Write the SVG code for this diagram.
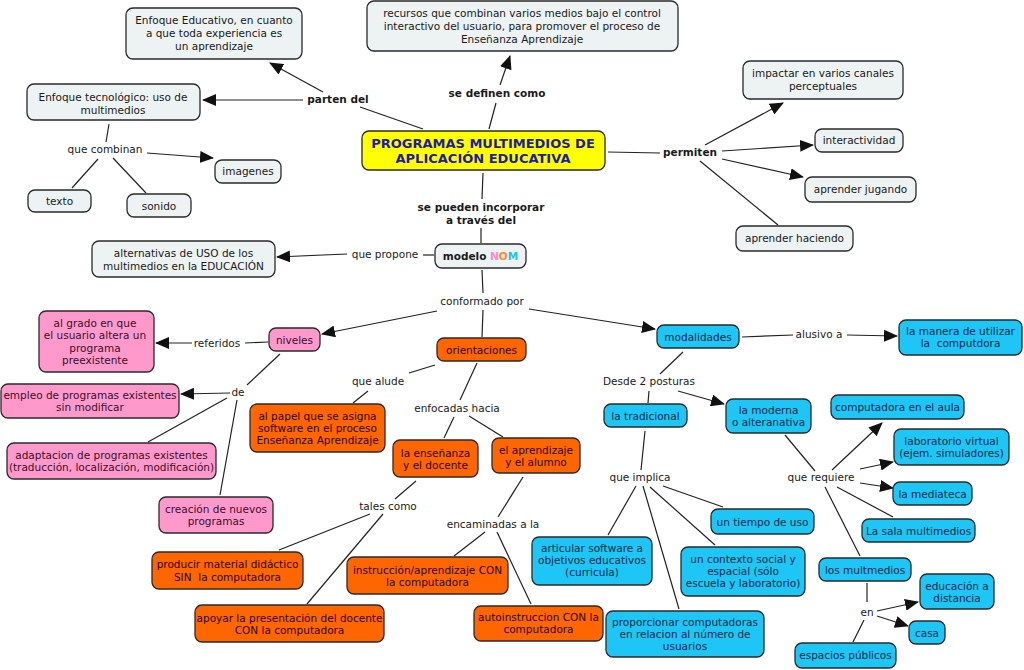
<svg xmlns="http://www.w3.org/2000/svg" width="1024" height="670" viewBox="0 0 1024 670">
<style>
text{font-family:"DejaVu Sans",Verdana,"Liberation Sans",sans-serif;font-size:10.5px;fill:#1a1a1a;text-anchor:middle;white-space:pre}
.b{font-weight:bold}
rect{stroke:#2a2a2a;stroke-width:1.3;rx:7;ry:7}
.g rect{fill:#edf2f3}
.p rect{fill:#ff99cc}
.p text{fill:#3a1028}
.o rect{fill:#ff6600}
.o text{fill:#2a0800}
.c rect{fill:#1dc6f4}
.c text{fill:#08284a}
.m rect{fill:#ffff00}
.m text{fill:#1c1ca8;font-size:13px;font-weight:bold}
#links line{stroke:#222;stroke-width:1.2}
#links .a{marker-end:url(#ah)}
</style>
<defs>
<marker id="ah" markerUnits="userSpaceOnUse" markerWidth="14" markerHeight="12" viewBox="0 0 14 12" refX="13" refY="6" orient="auto">
<path d="M0,0 L14,6 L0,12 z" fill="#111"/>
</marker>
</defs>
<rect x="0" y="0" width="1024" height="670" style="fill:#fff;stroke:none"/>

<g id="links">
<line x1="360" y1="107" x2="423" y2="129"/>
<line class="a" x1="323" y1="92" x2="270" y2="63"/>
<line class="a" x1="303" y1="100" x2="203" y2="100"/>
<line x1="109" y1="124" x2="106" y2="142"/>
<line x1="98" y1="159" x2="72" y2="188"/>
<line x1="113" y1="158" x2="146" y2="193"/>
<line class="a" x1="147" y1="153" x2="213" y2="158"/>
<line x1="489" y1="129" x2="496" y2="103"/>
<line class="a" x1="500" y1="85" x2="510" y2="56"/>
<line x1="608" y1="152" x2="660" y2="153"/>
<line class="a" x1="705" y1="145" x2="783" y2="103"/>
<line class="a" x1="722" y1="151" x2="813" y2="145"/>
<line class="a" x1="722" y1="159" x2="803" y2="177"/>
<line x1="700" y1="161" x2="778" y2="225"/>
<line x1="483" y1="173" x2="482" y2="199"/>
<line x1="481" y1="228" x2="481" y2="243"/>
<line x1="423" y1="255" x2="434" y2="255"/>
<line class="a" x1="347" y1="254" x2="277" y2="257"/>
<line x1="482" y1="270" x2="483" y2="293"/>
<line class="a" x1="437" y1="311" x2="322" y2="334"/>
<line x1="483" y1="310" x2="482" y2="337"/>
<line class="a" x1="529" y1="309" x2="655" y2="329"/>
<line x1="245" y1="343" x2="268" y2="342"/>
<line class="a" x1="192" y1="343" x2="156" y2="343"/>
<line x1="280" y1="354" x2="247" y2="385"/>
<line class="a" x1="230" y1="393" x2="181" y2="394"/>
<line x1="227" y1="398" x2="148" y2="442"/>
<line x1="237" y1="400" x2="220" y2="495"/>
<line x1="435" y1="365" x2="409" y2="373"/>
<line x1="368" y1="391" x2="353" y2="403"/>
<line x1="477" y1="363" x2="460" y2="400"/>
<line x1="454" y1="417" x2="444" y2="438"/>
<line x1="469" y1="416" x2="503" y2="437"/>
<line x1="416" y1="481" x2="395" y2="499"/>
<line x1="370" y1="514" x2="279" y2="550"/>
<line x1="383" y1="514" x2="307" y2="604"/>
<line x1="523" y1="477" x2="498" y2="517"/>
<line x1="485" y1="532" x2="454" y2="556"/>
<line x1="497" y1="532" x2="531" y2="604"/>
<line x1="742" y1="337" x2="793" y2="335"/>
<line class="a" x1="847" y1="335" x2="897" y2="336"/>
<line x1="683" y1="352" x2="660" y2="374"/>
<line x1="649" y1="391" x2="648" y2="403"/>
<line class="a" x1="678" y1="391" x2="724" y2="404"/>
<line x1="645" y1="431" x2="641" y2="470"/>
<line x1="636" y1="486" x2="608" y2="535"/>
<line x1="643" y1="486" x2="679" y2="609"/>
<line x1="650" y1="487" x2="715" y2="545"/>
<line x1="663" y1="486" x2="723" y2="507"/>
<line x1="785" y1="435" x2="815" y2="471"/>
<line class="a" x1="832" y1="470" x2="882" y2="423"/>
<line class="a" x1="860" y1="469" x2="893" y2="462"/>
<line class="a" x1="860" y1="483" x2="893" y2="488"/>
<line x1="837" y1="487" x2="893" y2="517"/>
<line x1="825" y1="487" x2="860" y2="556"/>
<line x1="867" y1="583" x2="867" y2="602"/>
<line class="a" x1="877" y1="611" x2="918" y2="602"/>
<line class="a" x1="877" y1="616" x2="908" y2="626"/>
<line x1="864" y1="620" x2="853" y2="642"/>
</g>

<g id="labels">
<text class="b" x="338" y="103">parten del</text>
<text class="b" x="497" y="97">se definen como</text>
<text class="b" x="690" y="156">permiten</text>
<text x="105" y="153">que combinan</text>
<text class="b" x="481" y="211">se pueden incorporar</text>
<text class="b" x="481" y="224">a través del</text>
<text x="385" y="258">que propone</text>
<text x="482" y="305">conformado por</text>
<text x="217" y="347">referidos</text>
<text x="238" y="396">de</text>
<text x="378" y="385">que alude</text>
<text x="457" y="412">enfocadas hacia</text>
<text x="388" y="510">tales como</text>
<text x="493" y="528">encaminadas a la</text>
<text x="819" y="338">alusivo a</text>
<text x="649" y="385">Desde 2 posturas</text>
<text x="640" y="481">que implica</text>
<text x="821" y="481">que requiere</text>
<text x="867" y="616">en</text>
</g>

<g id="n-educativo" class="g"><rect x="126" y="8" width="176" height="51"/><text x="214" y="24">Enfoque Educativo, en cuanto</text><text x="214" y="37">a que toda experiencia es</text><text x="214" y="50">un aprendizaje</text></g>
<g id="n-recursos" class="g"><rect x="367" y="1" width="311" height="50"/><text x="522" y="17">recursos que combinan varios medios bajo el control</text><text x="522" y="30">interactivo del usuario, para promover el proceso de</text><text x="522" y="43">Enseñanza Aprendizaje</text></g>
<g id="n-tecnologico" class="g"><rect x="27" y="84" width="173" height="36"/><text x="113" y="101">Enfoque tecnológico: uso de</text><text x="113" y="114">multimedios</text></g>
<g id="n-imagenes" class="g"><rect x="215" y="160" width="66" height="23"/><text x="248" y="175">imagenes</text></g>
<g id="n-texto" class="g"><rect x="28" y="190" width="63" height="22"/><text x="59.5" y="205">texto</text></g>
<g id="n-sonido" class="g"><rect x="127" y="194" width="64" height="23"/><text x="159" y="210">sonido</text></g>
<g id="n-main" class="m"><rect x="362" y="131" width="243" height="39"/><text x="483" y="148">PROGRAMAS MULTIMEDIOS DE</text><text x="483" y="163">APLICACIÓN EDUCATIVA</text></g>
<g id="n-impactar" class="g"><rect x="743" y="61" width="160" height="38"/><text x="823" y="77">impactar en varios canales</text><text x="823" y="90">perceptuales</text></g>
<g id="n-interactividad" class="g"><rect x="815" y="129" width="88" height="23"/><text x="859" y="144">interactividad</text></g>
<g id="n-jugando" class="g"><rect x="805" y="177" width="111" height="25"/><text x="860.5" y="193">aprender jugando</text></g>
<g id="n-haciendo" class="g"><rect x="736" y="226" width="117" height="25"/><text x="794.5" y="242">aprender haciendo</text></g>
<g id="n-alternativas" class="g"><rect x="92" y="241" width="183" height="36"/><text x="183.5" y="257">alternativas de USO de los</text><text x="183.5" y="270">multimedios en la EDUCACIÓN</text></g>
<g id="n-nom" class="g"><rect x="435" y="244" width="91" height="24"/><text class="b" x="480.5" y="260">modelo <tspan fill="#ff88cc">N</tspan><tspan fill="#ff8a2a">O</tspan><tspan fill="#22c4f0">M</tspan></text></g>

<g id="n-niveles" class="p"><rect x="269" y="328" width="51" height="23"/><text x="294.5" y="344">niveles</text></g>
<g id="n-grado" class="p"><rect x="39" y="311" width="115" height="61"/><text x="95" y="327">al grado en que</text><text x="95" y="339">el usuario altera un</text><text x="95" y="352">programa</text><text x="95" y="364">preexistente</text></g>
<g id="n-empleo" class="p"><rect x="1" y="384" width="178" height="34"/><text x="90" y="399">empleo de programas existentes</text><text x="90" y="411">sin modificar</text></g>
<g id="n-adaptacion" class="p"><rect x="7" y="443" width="209" height="36"/><text x="111.5" y="459">adaptacion de programas existentes</text><text x="111.5" y="471">(traducción, localización, modificación)</text></g>
<g id="n-creacion" class="p"><rect x="159" y="497" width="114" height="36"/><text x="216" y="513">creación de nuevos</text><text x="216" y="525">programas</text></g>

<g id="n-orientaciones" class="o"><rect x="437" y="338" width="89" height="23"/><text x="481.5" y="354">orientaciones</text></g>
<g id="n-papel" class="o"><rect x="250" y="404" width="135" height="48"/><text x="317.5" y="420">al papel que se asigna</text><text x="317.5" y="432">software en el proceso</text><text x="317.5" y="444">Enseñanza Aprendizaje</text></g>
<g id="n-ensenanza" class="o"><rect x="393" y="440" width="85" height="37"/><text x="435.5" y="457">la enseñanza</text><text x="435.5" y="469">y el docente</text></g>
<g id="n-aprendizaje" class="o"><rect x="492" y="438" width="88" height="35"/><text x="536" y="454">el aprendizaje</text><text x="536" y="466">y el alumno</text></g>
<g id="n-producir" class="o"><rect x="152" y="552" width="151" height="37"/><text x="227.5" y="568">producir material didáctico</text><text x="227.5" y="581">SIN  la computadora</text></g>
<g id="n-apoyar" class="o"><rect x="195" y="605" width="189" height="37"/><text x="289.5" y="622">apoyar la presentación del docente</text><text x="289.5" y="634">CON la computadora</text></g>
<g id="n-instruccion" class="o"><rect x="347" y="557" width="161" height="37"/><text x="427.5" y="574">instrucción/aprendizaje CON</text><text x="427.5" y="586">la computadora</text></g>
<g id="n-autoinstruccion" class="o"><rect x="474" y="606" width="129" height="35"/><text x="538.5" y="621">autoinstruccion CON la</text><text x="538.5" y="633">computadora</text></g>

<g id="n-modalidades" class="c"><rect x="657" y="325" width="82" height="23"/><text x="698" y="341">modalidades</text></g>
<g id="n-manera" class="c"><rect x="899" y="320" width="123" height="35"/><text x="960.5" y="335">la manera de utilizar</text><text x="960.5" y="347">la  computdora</text></g>
<g id="n-tradicional" class="c"><rect x="604" y="404" width="83" height="23"/><text x="645.5" y="420">la tradicional</text></g>
<g id="n-moderna" class="c"><rect x="726" y="399" width="85" height="34"/><text x="768.5" y="414">la moderna</text><text x="768.5" y="426">o alteranativa</text></g>
<g id="n-aula" class="c"><rect x="831" y="395" width="133" height="24"/><text x="897.5" y="411">computadora en el aula</text></g>
<g id="n-laboratorio" class="c"><rect x="894" y="429" width="115" height="36"/><text x="951.5" y="445">laboratorio virtual</text><text x="951.5" y="457">(ejem. simuladores)</text></g>
<g id="n-mediateca" class="c"><rect x="893" y="482" width="79" height="23"/><text x="932.5" y="498">la mediateca</text></g>
<g id="n-sala" class="c"><rect x="862" y="519" width="113" height="23"/><text x="918.5" y="535">La sala multimedios</text></g>
<g id="n-tiempo" class="c"><rect x="711" y="509" width="103" height="25"/><text x="762.5" y="526">un tiempo de uso</text></g>
<g id="n-articular" class="c"><rect x="532" y="537" width="120" height="48"/><text x="592" y="552">articular software a</text><text x="592" y="564">objetivos educativos</text><text x="592" y="576">(curricula)</text></g>
<g id="n-contexto" class="c"><rect x="681" y="547" width="124" height="49"/><text x="743" y="563">un contexto social y</text><text x="743" y="575">espacial (sólo</text><text x="743" y="587">escuela y laboratorio)</text></g>
<g id="n-proporcionar" class="c"><rect x="606" y="611" width="158" height="46"/><text x="685" y="626">proporcionar computadoras</text><text x="685" y="638">en relacion al número de</text><text x="685" y="650">usuarios</text></g>
<g id="n-multmedios" class="c"><rect x="819" y="558" width="92" height="23"/><text x="865" y="574">los multmedios</text></g>
<g id="n-distancia" class="c"><rect x="920" y="574" width="74" height="35"/><text x="957" y="590">educación a</text><text x="957" y="602">distancia</text></g>
<g id="n-casa" class="c"><rect x="909" y="621" width="36" height="23"/><text x="927" y="637">casa</text></g>
<g id="n-publicos" class="c"><rect x="795" y="643" width="101" height="25"/><text x="845.5" y="659">espacios públicos</text></g>
</svg>
